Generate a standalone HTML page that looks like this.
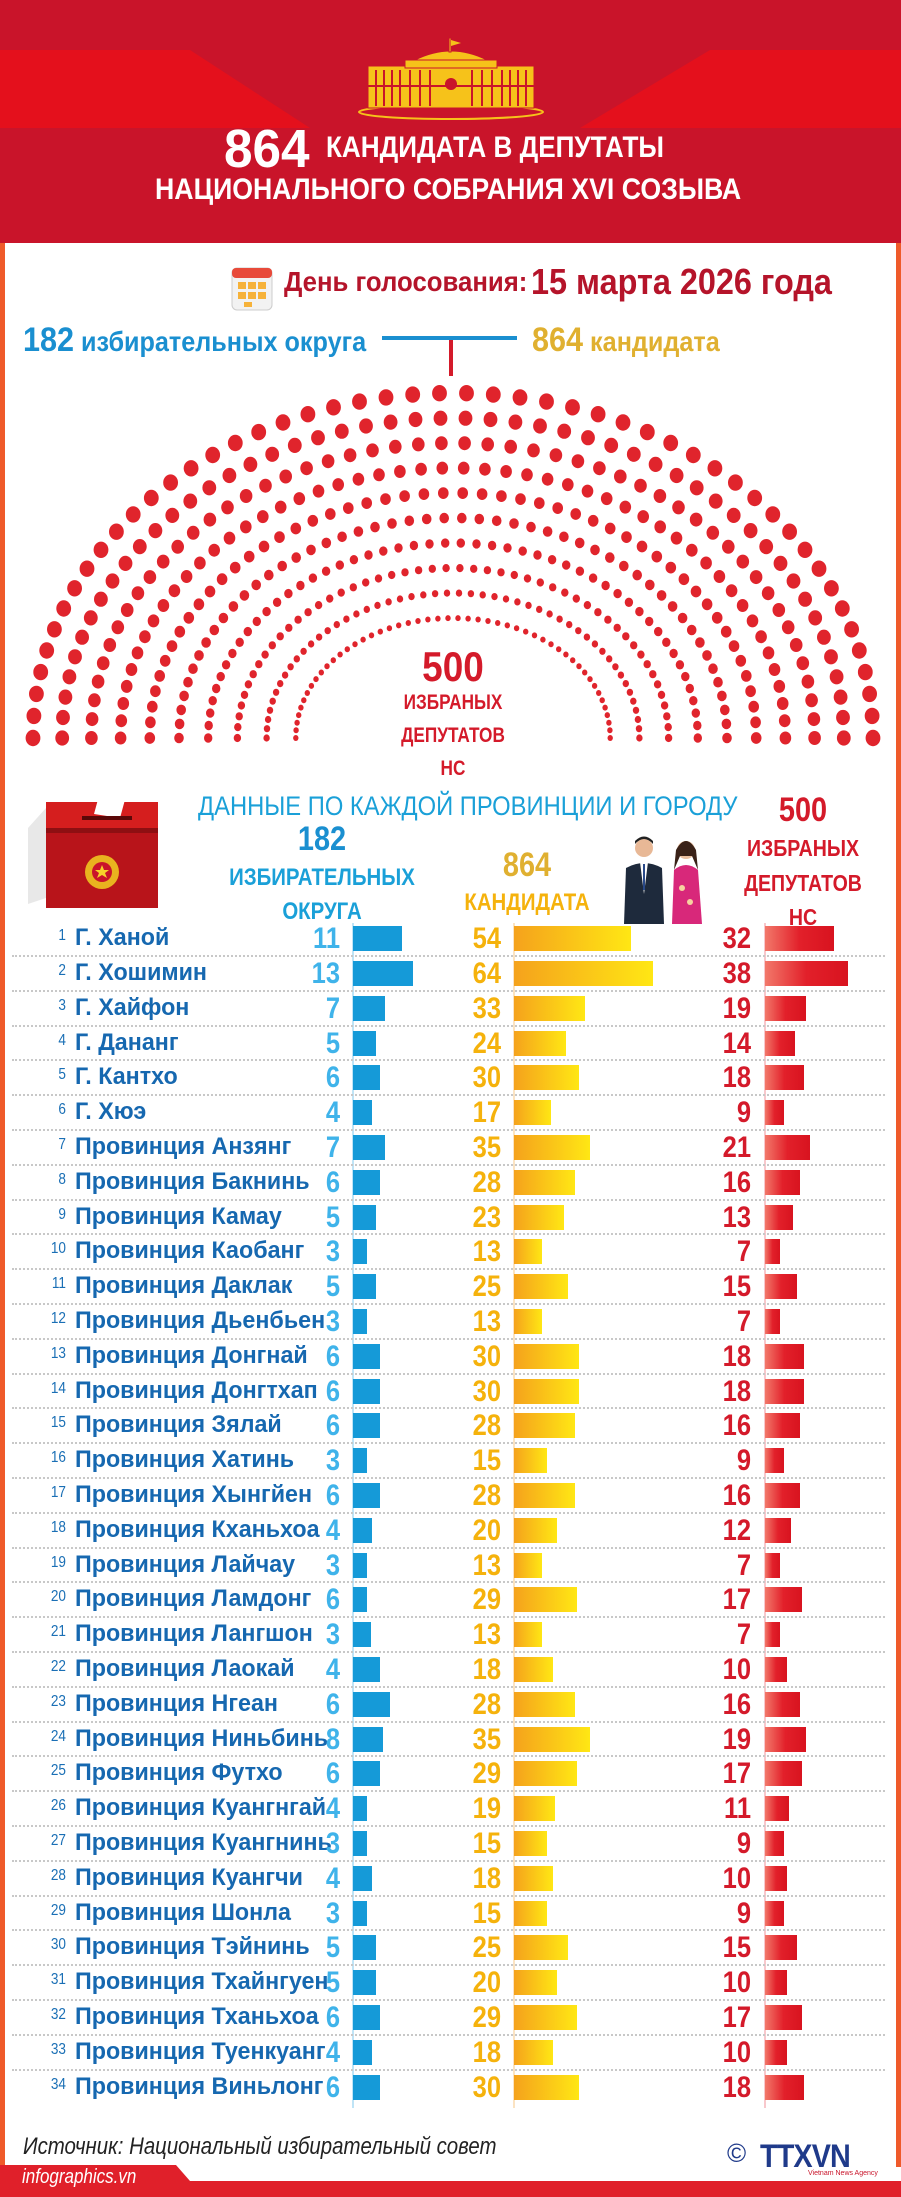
<!DOCTYPE html>
<html><head><meta charset="utf-8">
<style>
*{margin:0;padding:0;box-sizing:border-box}
body{width:901px;height:2197px;position:relative;background:#fff;overflow:hidden;font-family:"Liberation Sans",sans-serif}
.a{position:absolute;white-space:nowrap}
.b{font-weight:bold}
.row{position:absolute;left:0;width:901px;height:35px}
.idx{position:absolute;left:40px;width:26px;text-align:right;top:6px;font-size:16px;color:#1a6fb5;transform:scaleX(.85);transform-origin:right}
.nm{position:absolute;left:75px;top:3px;font-size:24px;font-weight:bold;color:#1668b0;transform:scaleX(.97);transform-origin:left}
.n{position:absolute;top:1px;width:60px;text-align:right;font-size:30px;font-weight:bold;transform:scaleX(.85);transform-origin:right}
.n1{left:280px;color:#3fb3ea}.n2{left:441px;color:#f5b20c}.n3{left:691px;color:#d41a2a}
.bar{position:absolute;top:5px;height:25px}
.b1{left:353px;background:#159ad8}
.b2{left:514px;background:linear-gradient(90deg,#f5a21c,#ffe714)}
.b3{left:765px;background:linear-gradient(90deg,#f2786a,#e2202a 50%,#d8131f)}
.sep{position:absolute;left:12px;width:873px;top:-1px;border-top:2px dotted #c8c8c8}
</style></head><body>
<!-- header -->
<div class="a" style="left:0;top:0;width:901px;height:243px;background:#c9142a"></div>
<svg class="a" style="left:0;top:0" width="901" height="243">
<polygon points="0,50 190,50 310,128 0,128" fill="#e4101c"/>
<polygon points="901,50 710,50 580,128 901,128" fill="#e4101c"/>
<g fill="#f6c21a" stroke="#c9142a" stroke-width="1">
<ellipse cx="451" cy="112" rx="92" ry="7" fill="none" stroke="#f6c21a" stroke-width="2"/>
<rect x="368" y="66" width="166" height="42"/>
<rect x="405" y="60" width="92" height="8"/>
<path d="M415 60 Q451 42 487 60Z"/>
<rect x="449" y="38" width="2" height="14"/>
</g>
<polygon points="451,40 461,43 451,46" fill="#f6c21a"/>
<g stroke="#c9142a" stroke-width="2">
<line x1="376" y1="70" x2="376" y2="106"/><line x1="384" y1="70" x2="384" y2="106"/><line x1="392" y1="70" x2="392" y2="106"/><line x1="400" y1="70" x2="400" y2="106"/><line x1="410" y1="70" x2="410" y2="106"/><line x1="420" y1="70" x2="420" y2="106"/><line x1="430" y1="70" x2="430" y2="106"/>
<line x1="472" y1="70" x2="472" y2="106"/><line x1="482" y1="70" x2="482" y2="106"/><line x1="492" y1="70" x2="492" y2="106"/><line x1="502" y1="70" x2="502" y2="106"/><line x1="510" y1="70" x2="510" y2="106"/><line x1="518" y1="70" x2="518" y2="106"/><line x1="526" y1="70" x2="526" y2="106"/>
<line x1="368" y1="86" x2="534" y2="86"/>
</g>
<circle cx="451" cy="84" r="6" fill="#c9142a"/>
</svg>
<div class="a b" style="left:224px;top:118px;font-size:54px;color:#fff;transform:scaleX(.95);transform-origin:left">864</div>
<div class="a b" style="left:326px;top:131px;font-size:30px;color:#fff;transform:scaleX(.87);transform-origin:left">КАНДИДАТА В ДЕПУТАТЫ</div>
<div class="a b" style="left:155px;top:173px;font-size:30px;color:#fff;transform:scaleX(.89);transform-origin:left">НАЦИОНАЛЬНОГО СОБРАНИЯ XVI СОЗЫВА</div>
<!-- borders -->
<div class="a" style="left:0;top:243px;width:5px;height:1924px;background:#ef5a2a"></div>
<div class="a" style="left:896px;top:243px;width:5px;height:1924px;background:#ef5a2a"></div>
<!-- date -->
<svg class="a" style="left:230px;top:262px" width="44" height="50">
<rect x="2" y="6" width="40" height="42" rx="5" fill="#f2f2f2" stroke="#ccc"/>
<rect x="2" y="6" width="40" height="10" rx="4" fill="#e84a3a"/>
<g fill="#f6b23a"><rect x="8" y="20" width="8" height="7"/><rect x="18" y="20" width="8" height="7"/><rect x="28" y="20" width="8" height="7"/><rect x="8" y="30" width="8" height="7"/><rect x="18" y="30" width="8" height="7"/><rect x="28" y="30" width="8" height="7"/><rect x="14" y="40" width="8" height="5"/></g>
</svg>
<div class="a b" style="left:284px;top:266px;font-size:28px;color:#b5142a;transform:scaleX(.92);transform-origin:left">День голосования:</div>
<div class="a b" style="left:531px;top:261px;font-size:36px;color:#b5142a;transform:scaleX(.9);transform-origin:left">15 марта 2026 года</div>
<div class="a b" style="left:23px;top:321px;font-size:28px;color:#1a8fd0;transform:scaleX(.9);transform-origin:left"><span style="font-size:34px">182</span> избирательных округа</div>
<div class="a" style="left:382px;top:336px;width:135px;height:4px;background:#1a8fd0"></div>
<div class="a" style="left:449px;top:340px;width:4px;height:36px;background:#d41a2a"></div>
<div class="a b" style="left:532px;top:321px;font-size:28px;color:#e0b030;transform:scaleX(.9);transform-origin:left"><span style="font-size:34px">864</span> кандидата</div>
<!-- arc -->
<svg class="a" id="arc" style="left:0;top:380px" width="901" height="380"></svg>
<div class="a b" style="left:400px;top:643px;width:106px;text-align:center;font-size:42px;color:#d41a2a;transform:scaleX(.88)">500</div>
<div class="a b" style="left:360px;top:691px;width:186px;text-align:center;font-size:21px;color:#d41a2a;transform:scaleX(.82)">ИЗБРАНЫХ</div>
<div class="a b" style="left:360px;top:724px;width:186px;text-align:center;font-size:21px;color:#d41a2a;transform:scaleX(.82)">ДЕПУТАТОВ</div>
<div class="a b" style="left:360px;top:757px;width:186px;text-align:center;font-size:21px;color:#d41a2a;transform:scaleX(.82)">НС</div>
<!-- table header -->
<div class="a" style="left:198px;top:791px;font-size:27px;color:#1aa0d8;transform:scaleX(.88);transform-origin:left">ДАННЫЕ ПО КАЖДОЙ ПРОВИНЦИИ И ГОРОДУ</div>
<div class="a b" style="left:272px;top:820px;width:100px;text-align:center;font-size:34px;color:#1a8fd0;transform:scaleX(.85)">182</div>
<div class="a b" style="left:212px;top:864px;width:220px;text-align:center;font-size:24px;color:#1aa0d8;transform:scaleX(.85)">ИЗБИРАТЕЛЬНЫХ</div>
<div class="a b" style="left:212px;top:898px;width:220px;text-align:center;font-size:24px;color:#1aa0d8;transform:scaleX(.85)">ОКРУГА</div>
<div class="a b" style="left:477px;top:846px;width:100px;text-align:center;font-size:34px;color:#e0b030;transform:scaleX(.85)">864</div>
<div class="a b" style="left:437px;top:889px;width:180px;text-align:center;font-size:24px;color:#f5b20c;transform:scaleX(.85)">КАНДИДАТА</div>
<div class="a b" style="left:753px;top:791px;width:100px;text-align:center;font-size:34px;color:#d41a2a;transform:scaleX(.85)">500</div>
<div class="a b" style="left:723px;top:835px;width:160px;text-align:center;font-size:23px;color:#d41a2a;transform:scaleX(.85)">ИЗБРАНЫХ</div>
<div class="a b" style="left:723px;top:870px;width:160px;text-align:center;font-size:23px;color:#d41a2a;transform:scaleX(.85)">ДЕПУТАТОВ</div>
<div class="a b" style="left:723px;top:904px;width:160px;text-align:center;font-size:23px;color:#d41a2a;transform:scaleX(.85)">НС</div>
<!-- ballot box -->
<svg class="a" style="left:20px;top:788px" width="150" height="124">
<polygon points="8,40 26,20 26,110 8,116" fill="#e8e8e8"/>
<polygon points="26,14 138,14 138,40 26,40" fill="#d51e1e"/>
<rect x="26" y="40" width="112" height="80" fill="#b8141a"/>
<rect x="26" y="40" width="112" height="5" fill="#8e0f12"/>
<polygon points="80,4 106,8 100,30 74,26" fill="#fff"/>
<rect x="62" y="28" width="50" height="4" fill="#5a0808"/>
<circle cx="82" cy="84" r="17" fill="#e9b31f"/><circle cx="82" cy="84" r="10" fill="#c9142a"/>
<polygon points="82,77 84,82 89,82 85,85 87,90 82,87 77,90 79,85 75,82 80,82" fill="#f6d22a"/>
</svg>
<!-- people -->
<svg class="a" style="left:616px;top:834px" width="100" height="90">
<circle cx="28" cy="14" r="9" fill="#e8b896"/><path d="M19 10 Q28 0 37 10 L37 7 Q28 -2 19 7Z" fill="#222"/>
<path d="M8 90 L10 34 Q28 24 46 34 L48 90Z" fill="#1e2a3c"/><polygon points="24,28 32,28 28,60" fill="#fff"/><polygon points="27,30 29,30 29,56 27,56" fill="#2a4a8a"/>
<circle cx="70" cy="16" r="9" fill="#eac0a0"/><path d="M60 16 Q70 -2 80 16 L82 36 L76 22 L64 22 L58 36Z" fill="#3a2218"/>
<path d="M56 90 L58 36 Q70 26 82 36 L86 90Z" fill="#d8287a"/><circle cx="66" cy="54" r="3" fill="#f6d2a0"/><circle cx="74" cy="68" r="3" fill="#f6d2a0"/>
</svg>
<!-- axes -->
<div class="a" style="left:352px;top:923px;width:2px;height:1185px;background:#bfe4f6"></div>
<div class="a" style="left:513px;top:923px;width:2px;height:1185px;background:#fbe3c2"></div>
<div class="a" style="left:764px;top:923px;width:2px;height:1185px;background:#f8c8cc"></div>

<div id="rows">
<div class="row" style="top:921px"><span class="idx">1</span><span class="nm">Г. Ханой</span><span class="n n1">11</span><span class="bar b1" style="width:49px"></span><span class="n n2">54</span><span class="bar b2" style="width:117px"></span><span class="n n3">32</span><span class="bar b3" style="width:69px"></span></div>
<div class="row" style="top:956px"><div class="sep"></div><span class="idx">2</span><span class="nm">Г. Хошимин</span><span class="n n1">13</span><span class="bar b1" style="width:60px"></span><span class="n n2">64</span><span class="bar b2" style="width:139px"></span><span class="n n3">38</span><span class="bar b3" style="width:83px"></span></div>
<div class="row" style="top:991px"><div class="sep"></div><span class="idx">3</span><span class="nm">Г. Хайфон</span><span class="n n1">7</span><span class="bar b1" style="width:32px"></span><span class="n n2">33</span><span class="bar b2" style="width:71px"></span><span class="n n3">19</span><span class="bar b3" style="width:41px"></span></div>
<div class="row" style="top:1026px"><div class="sep"></div><span class="idx">4</span><span class="nm">Г. Дананг</span><span class="n n1">5</span><span class="bar b1" style="width:23px"></span><span class="n n2">24</span><span class="bar b2" style="width:52px"></span><span class="n n3">14</span><span class="bar b3" style="width:30px"></span></div>
<div class="row" style="top:1060px"><div class="sep"></div><span class="idx">5</span><span class="nm">Г. Кантхо</span><span class="n n1">6</span><span class="bar b1" style="width:27px"></span><span class="n n2">30</span><span class="bar b2" style="width:65px"></span><span class="n n3">18</span><span class="bar b3" style="width:39px"></span></div>
<div class="row" style="top:1095px"><div class="sep"></div><span class="idx">6</span><span class="nm">Г. Хюэ</span><span class="n n1">4</span><span class="bar b1" style="width:19px"></span><span class="n n2">17</span><span class="bar b2" style="width:37px"></span><span class="n n3">9</span><span class="bar b3" style="width:19px"></span></div>
<div class="row" style="top:1130px"><div class="sep"></div><span class="idx">7</span><span class="nm">Провинция Анзянг</span><span class="n n1">7</span><span class="bar b1" style="width:32px"></span><span class="n n2">35</span><span class="bar b2" style="width:76px"></span><span class="n n3">21</span><span class="bar b3" style="width:45px"></span></div>
<div class="row" style="top:1165px"><div class="sep"></div><span class="idx">8</span><span class="nm">Провинция Бакнинь</span><span class="n n1">6</span><span class="bar b1" style="width:27px"></span><span class="n n2">28</span><span class="bar b2" style="width:61px"></span><span class="n n3">16</span><span class="bar b3" style="width:35px"></span></div>
<div class="row" style="top:1200px"><div class="sep"></div><span class="idx">9</span><span class="nm">Провинция Камау</span><span class="n n1">5</span><span class="bar b1" style="width:23px"></span><span class="n n2">23</span><span class="bar b2" style="width:50px"></span><span class="n n3">13</span><span class="bar b3" style="width:28px"></span></div>
<div class="row" style="top:1234px"><div class="sep"></div><span class="idx">10</span><span class="nm">Провинция Каобанг</span><span class="n n1">3</span><span class="bar b1" style="width:14px"></span><span class="n n2">13</span><span class="bar b2" style="width:28px"></span><span class="n n3">7</span><span class="bar b3" style="width:15px"></span></div>
<div class="row" style="top:1269px"><div class="sep"></div><span class="idx">11</span><span class="nm">Провинция Даклак</span><span class="n n1">5</span><span class="bar b1" style="width:23px"></span><span class="n n2">25</span><span class="bar b2" style="width:54px"></span><span class="n n3">15</span><span class="bar b3" style="width:32px"></span></div>
<div class="row" style="top:1304px"><div class="sep"></div><span class="idx">12</span><span class="nm">Провинция Дьенбьен</span><span class="n n1">3</span><span class="bar b1" style="width:14px"></span><span class="n n2">13</span><span class="bar b2" style="width:28px"></span><span class="n n3">7</span><span class="bar b3" style="width:15px"></span></div>
<div class="row" style="top:1339px"><div class="sep"></div><span class="idx">13</span><span class="nm">Провинция Донгнай</span><span class="n n1">6</span><span class="bar b1" style="width:27px"></span><span class="n n2">30</span><span class="bar b2" style="width:65px"></span><span class="n n3">18</span><span class="bar b3" style="width:39px"></span></div>
<div class="row" style="top:1374px"><div class="sep"></div><span class="idx">14</span><span class="nm">Провинция Донгтхап</span><span class="n n1">6</span><span class="bar b1" style="width:27px"></span><span class="n n2">30</span><span class="bar b2" style="width:65px"></span><span class="n n3">18</span><span class="bar b3" style="width:39px"></span></div>
<div class="row" style="top:1408px"><div class="sep"></div><span class="idx">15</span><span class="nm">Провинция Зялай</span><span class="n n1">6</span><span class="bar b1" style="width:27px"></span><span class="n n2">28</span><span class="bar b2" style="width:61px"></span><span class="n n3">16</span><span class="bar b3" style="width:35px"></span></div>
<div class="row" style="top:1443px"><div class="sep"></div><span class="idx">16</span><span class="nm">Провинция Хатинь</span><span class="n n1">3</span><span class="bar b1" style="width:14px"></span><span class="n n2">15</span><span class="bar b2" style="width:33px"></span><span class="n n3">9</span><span class="bar b3" style="width:19px"></span></div>
<div class="row" style="top:1478px"><div class="sep"></div><span class="idx">17</span><span class="nm">Провинция Хынгйен</span><span class="n n1">6</span><span class="bar b1" style="width:27px"></span><span class="n n2">28</span><span class="bar b2" style="width:61px"></span><span class="n n3">16</span><span class="bar b3" style="width:35px"></span></div>
<div class="row" style="top:1513px"><div class="sep"></div><span class="idx">18</span><span class="nm">Провинция Кханьхоа</span><span class="n n1">4</span><span class="bar b1" style="width:19px"></span><span class="n n2">20</span><span class="bar b2" style="width:43px"></span><span class="n n3">12</span><span class="bar b3" style="width:26px"></span></div>
<div class="row" style="top:1548px"><div class="sep"></div><span class="idx">19</span><span class="nm">Провинция Лайчау</span><span class="n n1">3</span><span class="bar b1" style="width:14px"></span><span class="n n2">13</span><span class="bar b2" style="width:28px"></span><span class="n n3">7</span><span class="bar b3" style="width:15px"></span></div>
<div class="row" style="top:1582px"><div class="sep"></div><span class="idx">20</span><span class="nm">Провинция Ламдонг</span><span class="n n1">6</span><span class="bar b1" style="width:14px"></span><span class="n n2">29</span><span class="bar b2" style="width:63px"></span><span class="n n3">17</span><span class="bar b3" style="width:37px"></span></div>
<div class="row" style="top:1617px"><div class="sep"></div><span class="idx">21</span><span class="nm">Провинция Лангшон</span><span class="n n1">3</span><span class="bar b1" style="width:18px"></span><span class="n n2">13</span><span class="bar b2" style="width:28px"></span><span class="n n3">7</span><span class="bar b3" style="width:15px"></span></div>
<div class="row" style="top:1652px"><div class="sep"></div><span class="idx">22</span><span class="nm">Провинция Лаокай</span><span class="n n1">4</span><span class="bar b1" style="width:27px"></span><span class="n n2">18</span><span class="bar b2" style="width:39px"></span><span class="n n3">10</span><span class="bar b3" style="width:22px"></span></div>
<div class="row" style="top:1687px"><div class="sep"></div><span class="idx">23</span><span class="nm">Провинция Нгеан</span><span class="n n1">6</span><span class="bar b1" style="width:37px"></span><span class="n n2">28</span><span class="bar b2" style="width:61px"></span><span class="n n3">16</span><span class="bar b3" style="width:35px"></span></div>
<div class="row" style="top:1722px"><div class="sep"></div><span class="idx">24</span><span class="nm">Провинция Ниньбинь</span><span class="n n1">8</span><span class="bar b1" style="width:30px"></span><span class="n n2">35</span><span class="bar b2" style="width:76px"></span><span class="n n3">19</span><span class="bar b3" style="width:41px"></span></div>
<div class="row" style="top:1756px"><div class="sep"></div><span class="idx">25</span><span class="nm">Провинция Футхо</span><span class="n n1">6</span><span class="bar b1" style="width:27px"></span><span class="n n2">29</span><span class="bar b2" style="width:63px"></span><span class="n n3">17</span><span class="bar b3" style="width:37px"></span></div>
<div class="row" style="top:1791px"><div class="sep"></div><span class="idx">26</span><span class="nm">Провинция Куангнгай</span><span class="n n1">4</span><span class="bar b1" style="width:14px"></span><span class="n n2">19</span><span class="bar b2" style="width:41px"></span><span class="n n3">11</span><span class="bar b3" style="width:24px"></span></div>
<div class="row" style="top:1826px"><div class="sep"></div><span class="idx">27</span><span class="nm">Провинция Куангнинь</span><span class="n n1">3</span><span class="bar b1" style="width:14px"></span><span class="n n2">15</span><span class="bar b2" style="width:33px"></span><span class="n n3">9</span><span class="bar b3" style="width:19px"></span></div>
<div class="row" style="top:1861px"><div class="sep"></div><span class="idx">28</span><span class="nm">Провинция Куангчи</span><span class="n n1">4</span><span class="bar b1" style="width:19px"></span><span class="n n2">18</span><span class="bar b2" style="width:39px"></span><span class="n n3">10</span><span class="bar b3" style="width:22px"></span></div>
<div class="row" style="top:1896px"><div class="sep"></div><span class="idx">29</span><span class="nm">Провинция Шонла</span><span class="n n1">3</span><span class="bar b1" style="width:14px"></span><span class="n n2">15</span><span class="bar b2" style="width:33px"></span><span class="n n3">9</span><span class="bar b3" style="width:19px"></span></div>
<div class="row" style="top:1930px"><div class="sep"></div><span class="idx">30</span><span class="nm">Провинция Тэйнинь</span><span class="n n1">5</span><span class="bar b1" style="width:23px"></span><span class="n n2">25</span><span class="bar b2" style="width:54px"></span><span class="n n3">15</span><span class="bar b3" style="width:32px"></span></div>
<div class="row" style="top:1965px"><div class="sep"></div><span class="idx">31</span><span class="nm">Провинция Тхайнгуен</span><span class="n n1">5</span><span class="bar b1" style="width:23px"></span><span class="n n2">20</span><span class="bar b2" style="width:43px"></span><span class="n n3">10</span><span class="bar b3" style="width:22px"></span></div>
<div class="row" style="top:2000px"><div class="sep"></div><span class="idx">32</span><span class="nm">Провинция Тханьхоа</span><span class="n n1">6</span><span class="bar b1" style="width:27px"></span><span class="n n2">29</span><span class="bar b2" style="width:63px"></span><span class="n n3">17</span><span class="bar b3" style="width:37px"></span></div>
<div class="row" style="top:2035px"><div class="sep"></div><span class="idx">33</span><span class="nm">Провинция Туенкуанг</span><span class="n n1">4</span><span class="bar b1" style="width:19px"></span><span class="n n2">18</span><span class="bar b2" style="width:39px"></span><span class="n n3">10</span><span class="bar b3" style="width:22px"></span></div>
<div class="row" style="top:2070px"><div class="sep"></div><span class="idx">34</span><span class="nm">Провинция Виньлонг</span><span class="n n1">6</span><span class="bar b1" style="width:27px"></span><span class="n n2">30</span><span class="bar b2" style="width:65px"></span><span class="n n3">18</span><span class="bar b3" style="width:39px"></span></div>
</div>
<!-- footer -->
<div class="a" style="left:23px;top:2133px;font-size:24px;font-style:italic;color:#222;transform:scaleX(.85);transform-origin:left">Источник: Национальный избирательный совет</div>
<div class="a" style="left:727px;top:2138px;font-size:26px;color:#1f3a8a">©</div>
<div class="a b" style="left:760px;top:2138px;font-size:32px;color:#1f3a8a;letter-spacing:-1px;transform:scaleX(.9);transform-origin:left">TTXVN</div>
<div class="a" style="left:808px;top:2170px;font-size:7px;color:#c9142a">Vietnam News Agency</div>
<svg class="a" style="left:0;top:2165px" width="901" height="32">
<polygon points="0,0 176,0 190,16 901,16 901,32 0,32" fill="#e0202a"/>
</svg>
<div class="a" style="left:22px;top:2166px;font-size:20px;font-style:italic;color:#fff;transform:scaleX(.85);transform-origin:left">infographics.vn</div>
<script>
(function(){
var s=document.getElementById('arc'),cy=358,cx=453,rows=[];
var tot=0;
for(var i=0;i<10;i++){var rx=420-i*29.2,ry=345-i*25,r=8.2-i*0.58;
var per=Math.PI*Math.sqrt((rx*rx+ry*ry)/2);var n=Math.round(per/(2*r*1.45));rows.push([rx,ry,r,n]);tot+=n;}
var h='';
rows.forEach(function(q){var n=Math.round(q[3]*500/tot);
for(var k=0;k<n;k++){var t=Math.PI*k/(n-1);var x=cx-q[0]*Math.cos(t),y=cy-q[1]*Math.sin(t);
h+='<ellipse cx="'+x.toFixed(1)+'" cy="'+y.toFixed(1)+'" rx="'+(q[2]*0.9).toFixed(1)+'" ry="'+q[2].toFixed(1)+'" fill="#e0242c"/>';}});
s.innerHTML=h;
})();
</script>
</body></html>
